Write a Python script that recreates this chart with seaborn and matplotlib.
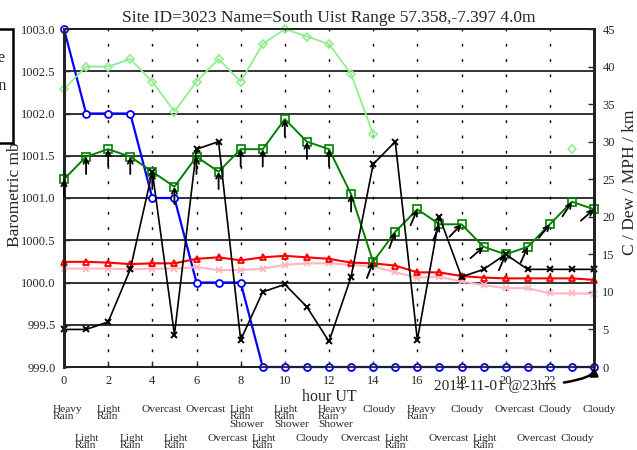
import numpy as np
import matplotlib
matplotlib.use("Agg")
import matplotlib.pyplot as plt
import seaborn as sns
from matplotlib.patches import Rectangle

# ---------------- data ----------------
hours = list(range(25))
pressure = [1003.0, 1002.0, 1002.0, 1002.0, 1001.0, 1001.0, 1000.0, 1000.0, 1000.0,
            999.0, 999.0, 999.0, 999.0, 999.0, 999.0, 999.0, 999.0, 999.0, 999.0,
            999.0, 999.0, 999.0, 999.0, 999.0, 999.0]
humidity_scaled = [37, 40, 40, 41, 38, 34, 38, 41, 38, 43, 45, 44, 43, 39, 31,
                   np.nan, np.nan, np.nan, np.nan, np.nan, np.nan, np.nan, np.nan, 29, np.nan]
wind_speed = [25, 28, 29, 28, 26, 24, 28, 26, 29, 29, 33, 30, 29, 23, 14,
              18, 21, 19, 19, 16, 15, 16, 19, 22, 21]
wind_dir = [0, 0, 0, 0, 0, 0, 0, 0, 0, 0, 0, 0, 0, 0, 21,
            20, 23, 21, 44, 49, 23, 24, 39, 33, 49]
gust = [5, 5, 6, 13, 26, 4.3, 29, 30, 3.6, 10, 11, 8, 3.4, 12, 27,
        30, 3.6, 20, 12, 13, 15, 13, 13, 13, 13]
temperature = [14.0, 14.0, 13.9, 13.7, 13.8, 13.8, 14.4, 14.6, 14.2, 14.6, 14.8, 14.6, 14.4,
               13.9, 13.8, 13.5, 12.6, 12.6, 12.1, 11.9, 11.8, 11.8, 11.8, 11.8, 11.6]
dewpoint = [13.1, 13.1, 13.1, 13.0, 13.1, 13.1, 13.3, 12.9, 12.9, 13.1, 13.6, 13.8, 13.8,
            13.6, 13.4, 12.6, 11.9, 12.0, 11.4, 10.9, 10.5, 10.5, 9.8, 9.8, 9.75]
weather = ["Heavy\nRain", "Light\nRain", "Light\nRain", "Light\nRain", "Overcast",
           "Light\nRain", "Overcast", "Overcast", "Light\nRain\nShower", "Light\nRain",
           "Light\nRain\nShower", "Cloudy", "Heavy\nRain\nShower", "Overcast", "Cloudy",
           "Light\nRain", "Heavy\nRain", "Overcast", "Cloudy", "Light\nRain", "Overcast",
           "Overcast", "Cloudy", "Cloudy", "Cloudy"]
title = "Site ID=3023 Name=South Uist Range 57.358,-7.397 4.0m"
xticks = list(range(0, 24, 2))
left_ticks = [999.0, 999.5, 1000.0, 1000.5, 1001.0, 1001.5, 1002.0, 1002.5, 1003.0]
right_ticks = [0, 5, 10, 15, 20, 25, 30, 35, 40, 45]
stamp = "2014-11-01 @23hrs"

# ---------------- style ----------------
sns.set_style("ticks")
plt.rcParams['font.family'] = ['Liberation Serif', 'DejaVu Serif']
plt.rcParams['font.size'] = 9

W, H = 637, 450
fig = plt.figure(figsize=(W / 100, H / 100), dpi=100)
ax = fig.add_axes([64 / W, 1 - 367 / H, 530 / W, 338 / H])
ax2 = ax.twinx()

ax.set_xlim(0, 24)
ax.set_ylim(999.0, 1003.0)
ax2.set_ylim(0, 45)

# grid
for v in left_ticks:
    ax.axhline(v, color='#222222', lw=1.3, zorder=0)
for h in range(2, 24, 2):
    ax.axvline(h, color='black', lw=1.0, linestyle=(0, (2, 9)), zorder=0)

# pressure (left axis)
sns.lineplot(x=hours, y=pressure, ax=ax, color='#0000ff', lw=1.6, marker='o',
             markersize=5, markerfacecolor='white', markeredgecolor='#0000ff',
             markeredgewidth=1.3, clip_on=False, zorder=5)

# light green series in contiguous segments
seg_x, seg_y = [], []
segments = []
for h, v in zip(hours, humidity_scaled):
    if np.isnan(v):
        if seg_x:
            segments.append((seg_x, seg_y))
        seg_x, seg_y = [], []
    else:
        seg_x.append(h)
        seg_y.append(v)
if seg_x:
    segments.append((seg_x, seg_y))
for sx, sy in segments:
    sns.lineplot(x=sx, y=sy, ax=ax2, color='#90ee90', lw=1.3, marker='D', markersize=4,
                 markerfacecolor='none', markeredgecolor='#90ee90', markeredgewidth=1.2,
                 clip_on=False)

sns.lineplot(x=hours, y=dewpoint, ax=ax2, color='#ffb6c1', lw=1.5, marker='x',
             markersize=5, markeredgecolor='#ffb6c1', markeredgewidth=1.3, clip_on=False)
sns.lineplot(x=hours, y=temperature, ax=ax2, color='#ff0000', lw=1.5, marker='^',
             markersize=5, markerfacecolor='none', markeredgecolor='#ff0000',
             markeredgewidth=1.3, clip_on=False)
sns.lineplot(x=hours, y=wind_speed, ax=ax2, color='#008000', lw=1.4, marker='s',
             markersize=5.5, markerfacecolor='none', markeredgecolor='#008000',
             markeredgewidth=1.2, clip_on=False)
sns.lineplot(x=hours, y=gust, ax=ax2, color='black', lw=1.2, marker='x',
             markersize=5, markeredgecolor='black', markeredgewidth=1.4, clip_on=False)

# wind direction arrows
L = 12.5
for h, s, d in zip(hours, wind_speed, wind_dir):
    th = np.deg2rad(d)
    ax2.annotate("", xy=(h, s), xytext=(-L * np.sin(th), -L * np.cos(th)),
                 textcoords='offset points',
                 arrowprops=dict(arrowstyle='->', color='black', lw=1.3,
                                 shrinkA=0, shrinkB=0, mutation_scale=9),
                 annotation_clip=False)

# ticks
ax.set_xticks(xticks)
ax.set_xticklabels([str(t) for t in xticks])
ax.set_yticks(left_ticks)
ax.set_yticklabels([f"{t:.1f}" for t in left_ticks])
ax2.set_yticks(right_ticks)
ax2.set_yticklabels([str(t) for t in right_ticks])
ax.tick_params(axis='both', direction='in', length=4, width=1, labelsize=9, pad=6)
ax.tick_params(axis='x', top=False)
ax2.tick_params(axis='y', direction='in', length=4, width=1, labelsize=9, pad=6)
for a in (ax, ax2):
    for sp in a.spines.values():
        sp.set_color('#222222')
        sp.set_linewidth(1.3)
    a.spines['left'].set_linewidth(2)
    a.spines['right'].set_linewidth(2)

ax.set_title(title, fontsize=12.5, pad=5)
ax.set_xlabel("hour UT", fontsize=11.5, labelpad=1)
ax.set_ylabel("Barometric mb", fontsize=12.5)
ax.yaxis.set_label_coords(-0.078, 0.51)
ax2.set_ylabel("C / Dew / MPH / km", fontsize=12.5)
ax2.yaxis.set_label_coords(1.052, 0.547)

# weather text below the axis
trans = matplotlib.transforms.blended_transform_factory(ax.transData, ax.transAxes)
for h, w in zip(hours, weather):
    yy = -0.1124 if h % 2 == 0 else -0.198
    ax.text(h - 0.5, yy, w, transform=trans, ha='left', va='top', fontsize=8.2,
            linespacing=0.78, clip_on=False)

# date stamp annotation
ax.annotate(stamp, xy=(24, 999.0), xytext=(-27, -14), textcoords='offset points',
            ha='right', va='center', fontsize=11, annotation_clip=False,
            arrowprops=dict(arrowstyle='-|>', color='black', lw=1.8, mutation_scale=12,
                            shrinkA=3, shrinkB=0,
                            connectionstyle="angle3,angleA=0,angleB=90"),
            zorder=10)

# partially visible legend box at the left edge
fig.add_artist(Rectangle((-0.2, 1 - 143 / H), 0.2 + 13 / W, 114 / H,
                         transform=fig.transFigure, fill=False, edgecolor='black',
                         lw=1.8, clip_on=False))
fig.text(6 / W, 1 - 58 / H, "Pressure", ha='right', va='center', fontsize=11.5)
fig.text(6 / W, 1 - 86 / H, "Wind Direction", ha='right', va='center', fontsize=11.5)

fig.savefig("out.png", dpi=100)
